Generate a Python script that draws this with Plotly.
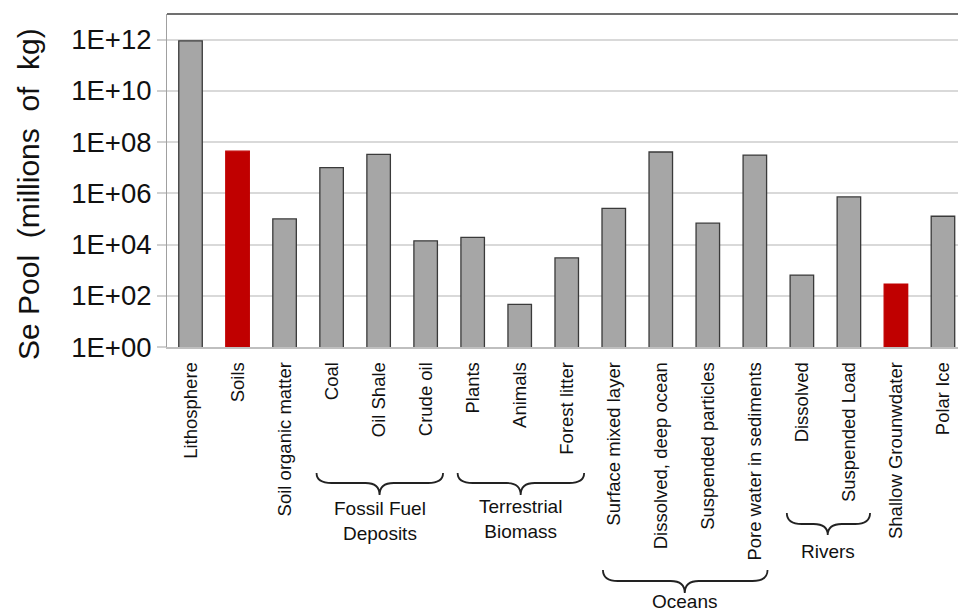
import plotly.graph_objects as go

categories = ["Lithosphere", "Soils", "Soil organic matter", "Coal", "Oil Shale", "Crude oil",
              "Plants", "Animals", "Forest litter", "Surface mixed layer", "Dissolved, deep ocean",
              "Suspended particles", "Pore water in sediments", "Dissolved", "Suspended Load",
              "Shallow Grounwdater", "Polar Ice"]
values = [9.0e11, 4.4e7, 1.0e5, 1.0e7, 3.3e7, 1.4e4,
          1.9e4, 46, 3.0e3, 2.6e5, 4.1e7,
          6.8e4, 3.1e7, 640, 7.2e5,
          285, 1.27e5]
highlight = [False, True, False, False, False, False,
             False, False, False, False, False,
             False, False, False, False,
             True, False]
tick_vals = [1, 1e2, 1e4, 1e6, 1e8, 1e10, 1e12]
tick_text = ["1E+00", "1E+02", "1E+04", "1E+06", "1E+08", "1E+10", "1E+12"]

groups = [
    # label, left x, tip x, right x, top px, line px, tip px, label center px
    ("Fossil Fuel<br>Deposits", 2.68, 4.02, 5.37, 473, 483, 495, 521),
    ("Terrestrial<br>Biomass", 5.68, 7.02, 8.37, 473, 483, 495, 519),
    ("Oceans", 8.77, 10.51, 12.27, 570, 581, 593, 601),
    ("Rivers", 12.68, 13.55, 14.45, 513, 524, 535, 551),
]

W, H = 958, 613
L, R, T, B = 167, 0, 14, 266
plot_top, plot_bot = T, H - B
def py(p):
    return (plot_bot - p) / (plot_bot - plot_top)

x = list(range(len(categories)))
fill = ["#c00000" if h else "#a6a6a6" for h in highlight]
line = ["#c00000" if h else "#3a3a3a" for h in highlight]

fig = go.Figure(go.Bar(x=x, y=values, width=0.5,
                       marker=dict(color=fill, line=dict(color=line, width=1.3))))

font = "Liberation Sans, Arial, sans-serif"
fig.update_layout(
    width=W, height=H, autosize=False,
    margin=dict(l=L, r=R, t=T, b=B, pad=0),
    plot_bgcolor="white", paper_bgcolor="white",
    showlegend=False,
    font=dict(family=font, color="#111111"),
    xaxis=dict(range=[-0.5, 16.32], tickmode="array", tickvals=x, ticktext=categories,
               tickangle=-90, tickfont=dict(size=18.5, color="#111111"), ticks="",
               ticklabelstandoff=6,
               showgrid=False, zeroline=False, showline=True, linecolor="#bfbfbf", linewidth=1.5),
    yaxis=dict(type="log", range=[0, 13], tickmode="array", tickvals=tick_vals, ticktext=tick_text,
               tickfont=dict(size=27.5, color="#111111"), ticks="outside", ticklen=9,
               tickcolor="#d0d0d0", tickwidth=1.5,
               showgrid=True, gridcolor="#d9d9d9", gridwidth=1.5, zeroline=False,
               showline=True, linecolor="#a0a0a0", linewidth=1),
)

shapes = [dict(type="line", xref="paper", yref="paper", x0=0, x1=1, y0=1, y1=1,
               line=dict(color="#707070", width=2))]
annotations = [dict(text="Se Pool  (millions  of  kg)", xref="paper", yref="paper",
                    x=(28 - L) / (W - L - R), y=py(194), textangle=-90, showarrow=False,
                    font=dict(size=30, family=font, color="#111111"),
                    xanchor="center", yanchor="middle")]
for label, x0, xm, x1, ytop, yline, ytip, ylab in groups:
    r = 0.32
    r2 = 0.3
    a, b, c = py(ytop), py(yline), py(ytip)
    path = (f"M {x0},{a} Q {x0},{b} {x0 + r},{b} L {xm - r2},{b} Q {xm},{b} {xm},{c} "
            f"Q {xm},{b} {xm + r2},{b} L {x1 - r},{b} Q {x1},{b} {x1},{a}")
    shapes.append(dict(type="path", xref="x", yref="paper", path=path,
                       line=dict(color="#222222", width=1.8)))
    annotations.append(dict(text=label, xref="x", yref="paper", x=xm, y=py(ylab),
                            showarrow=False, xanchor="center", yanchor="middle",
                            font=dict(size=19, family=font, color="#111111")))
fig.update_layout(shapes=shapes, annotations=annotations)
fig.write_html("out.html")
